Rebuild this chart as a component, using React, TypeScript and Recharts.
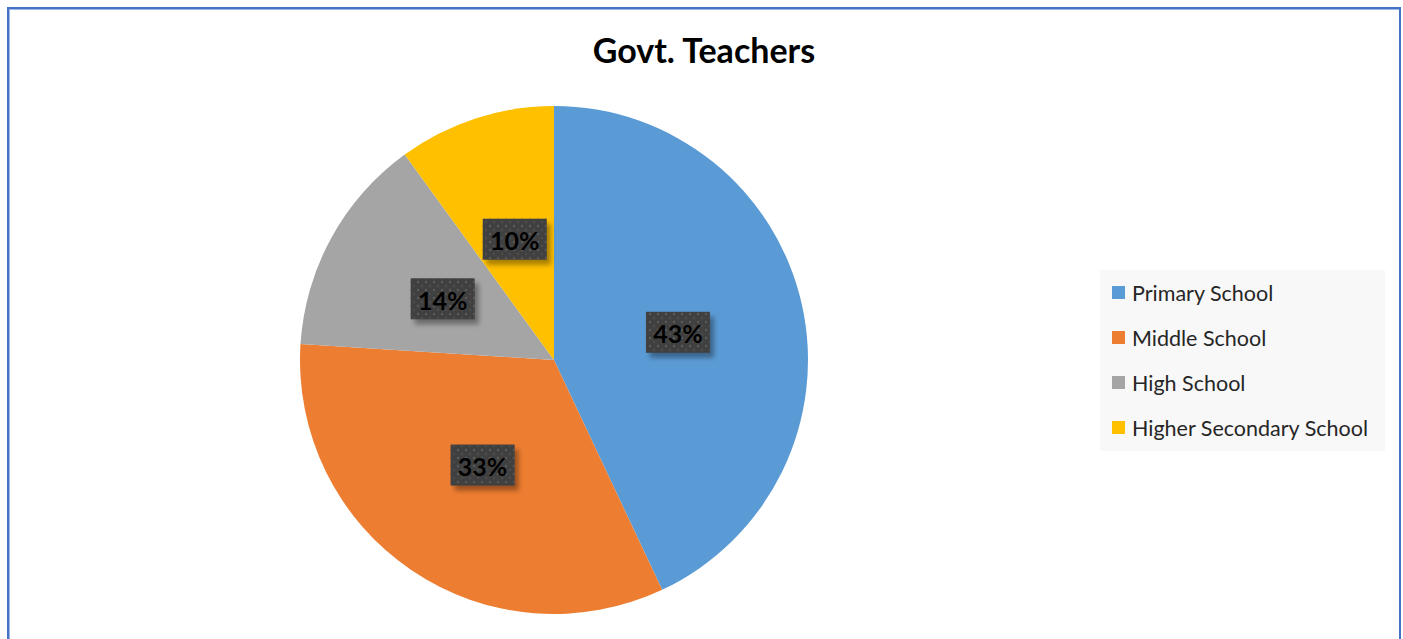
import React from "react";
import { PieChart, Pie, Cell, Legend } from "recharts";

const categories = ["Primary School", "Middle School", "High School", "Higher Secondary School"];
const shares = [43, 33, 14, 10];
const colors = ["#5B9BD5", "#ED7D31", "#A5A5A5", "#FFC000"];
const title = "Govt. Teachers";

const data = categories.map((name, i) => ({ name, value: shares[i] }));
const FONT = "Lato, 'Open Sans', sans-serif";
const RAD = Math.PI / 180;

const renderLabel = (props: any) => {
  const { cx, cy, midAngle, innerRadius, outerRadius, percent } = props;
  const r = innerRadius + (outerRadius - innerRadius) * 0.5;
  const x = cx + r * Math.cos(-midAngle * RAD);
  const y = cy + r * Math.sin(-midAngle * RAD);
  const w = 64;
  const h = 41;
  return (
    <g>
      <rect x={x - w / 2 + 4} y={y - h / 2 + 5} width={w} height={h} fill="#000" opacity={0.35} filter="url(#lblBlur)" />
      <rect x={x - w / 2} y={y - h / 2} width={w} height={h} fill="#404040" />
      <rect x={x - w / 2} y={y - h / 2} width={w} height={h} fill="url(#dots)" />
      <text x={x} y={y + 1} textAnchor="middle" dominantBaseline="central" fontFamily={FONT} fontWeight={700} fontSize={25} fill="#000">
        {`${Math.round(percent * 100)}%`}
      </text>
    </g>
  );
};

const renderLegend = () => (
  <div style={{ background: "#F8F8F8", width: 285, height: 181, boxSizing: "border-box", paddingTop: 0, paddingLeft: 12 }}>
    {categories.map((c, i) => (
      <div key={c} style={{ display: "flex", alignItems: "center", height: 45 }}>
        <span style={{ display: "inline-block", width: 13, height: 13, background: colors[i], marginRight: 7 }} />
        <span style={{ fontFamily: FONT, fontSize: 21.5, color: "#262626", whiteSpace: "nowrap" }}>{c}</span>
      </div>
    ))}
  </div>
);

export default function App() {
  return (
    <div style={{ position: "absolute", left: 0, top: 0, width: 1403, height: 639, overflow: "hidden", background: "#fff" }}>
      <svg width={0} height={0} style={{ position: "absolute" }}>
        <defs>
          <filter id="lblBlur" x="-20%" y="-20%" width="140%" height="140%">
            <feGaussianBlur stdDeviation="2.5" />
          </filter>
          <pattern id="dots" width="8" height="8" patternUnits="userSpaceOnUse">
            <circle cx="2" cy="2" r="1.2" fill="#5a5a5a" />
            <circle cx="6" cy="6" r="1.2" fill="#4c4c4c" />
          </pattern>
        </defs>
      </svg>
      <div
        style={{
          position: "absolute",
          left: 7,
          top: 7,
          width: 1394,
          height: 700,
          border: "2px solid #4472C4",
          boxShadow: "inset 1px 1px 0 #9DB7E6",
          boxSizing: "border-box",
        }}
      />
      <div
        style={{
          position: "absolute",
          left: 0,
          top: 30,
          width: 1408,
          textAlign: "center",
          fontFamily: FONT,
          fontWeight: 700,
          fontSize: 34,
          color: "#000",
          lineHeight: "40px",
        }}
      >
        {title}
      </div>
      <div style={{ position: "absolute", left: 0, top: 0 }}>
        <PieChart width={1403} height={639} margin={{ top: 0, right: 0, bottom: 0, left: 0 }}>
          <Pie
            data={data}
            dataKey="value"
            nameKey="name"
            cx={554}
            cy={360}
            outerRadius={254}
            startAngle={90}
            endAngle={-270}
            stroke="none"
            label={renderLabel}
            labelLine={false}
            isAnimationActive={false}
          >
            {data.map((d, i) => (
              <Cell key={d.name} fill={colors[i]} />
            ))}
          </Pie>
          <Legend
            content={renderLegend}
            layout="vertical"
            align="right"
            verticalAlign="top"
            wrapperStyle={{ position: "absolute", left: 1100, top: 270, width: 285, height: 181 }}
          />
        </PieChart>
      </div>
    </div>
  );
}
